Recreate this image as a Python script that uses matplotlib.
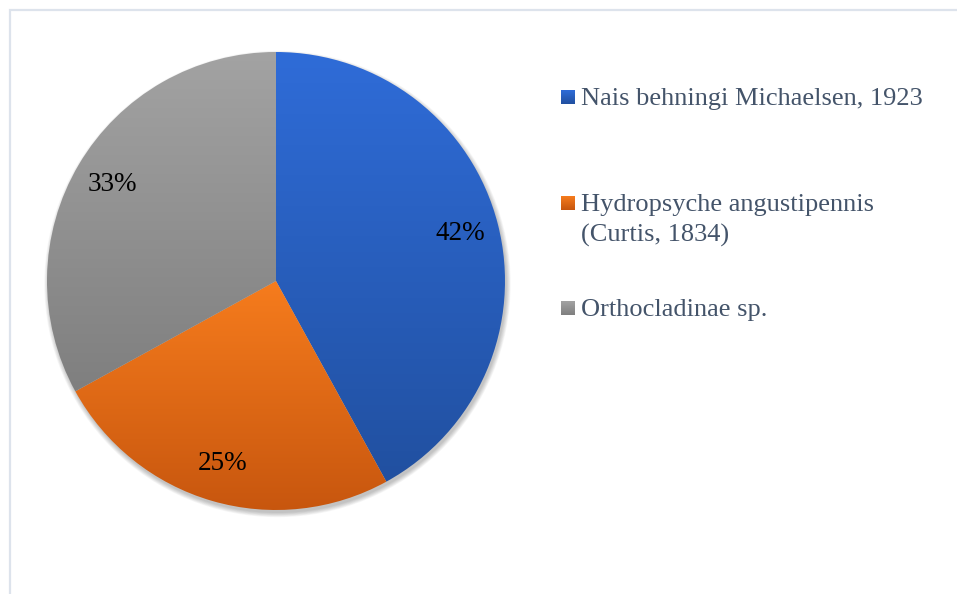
import numpy as np
import matplotlib
matplotlib.use("Agg")
import matplotlib.pyplot as plt
from matplotlib.patches import Rectangle, Circle
from matplotlib.colors import LinearSegmentedColormap

# species share of the sample
species = ["Nais behningi Michaelsen, 1923",
           "Hydropsyche angustipennis\n(Curtis, 1834)",
           "Orthocladinae sp."]
shares = [42, 25, 33]

# gradient fills (top colour, bottom colour) per slice
grad_top = ["#2f6cd8", "#f67c1d", "#a3a3a3"]
grad_bot = ["#2150a0", "#c6550e", "#7f7f7f"]

W, H = 957, 594
plt.rcParams["font.family"] = ["Liberation Serif", "DejaVu Serif"]

fig = plt.figure(figsize=(W / 100, H / 100), dpi=100)
ax = fig.add_axes([0, 0, 1, 1])

# chart area border (cut off at the right and bottom)
ax.add_patch(Rectangle((10, -20), W + 20, H - 10 + 20, fill=False,
                       edgecolor="#dde3ec", lw=1.6))

cx, cy, r = 276, 313, 229

# soft drop shadow under the pie
for i in range(7):
    ax.add_patch(Circle((cx + 1.5, cy - 3), r + i * 0.7, color="black",
                        alpha=0.035, lw=0, zorder=1))

wedges, _, autotexts = ax.pie(shares, center=(cx, cy), radius=r,
                              startangle=90, counterclock=False,
                              autopct="%d%%", pctdistance=0.83,
                              textprops=dict(fontsize=19.5, color="black"),
                              wedgeprops=dict(linewidth=0))

grad = np.linspace(0, 1, 256).reshape(-1, 1)
for w, t, b in zip(wedges, grad_top, grad_bot):
    cm = LinearSegmentedColormap.from_list("g", [t, b])
    verts = w.get_path().vertices
    x0, y0 = verts.min(axis=0)
    x1, y1 = verts.max(axis=0)
    im = ax.imshow(grad, cmap=cm, extent=(x0, x1, y0, y1), origin="upper",
                   aspect="auto", zorder=2, interpolation="bilinear")
    im.set_clip_path(w)
    w.set_facecolor("none")
for t in autotexts:
    t.set_zorder(5)

# legend drawn by hand
leg_y = [H - 97, H - 203, H - 308]
for name, t, b, y in zip(species, grad_top, grad_bot, leg_y):
    cm = LinearSegmentedColormap.from_list("g", [t, b])
    ax.imshow(grad, cmap=cm, extent=(561, 575, y - 7, y + 7),
              origin="upper", aspect="auto", zorder=3)
    ax.text(581, y + 9, name, fontsize=19, color="#44546a",
            va="top", ha="left", linespacing=1.42)

ax.set_xlim(0, W)
ax.set_ylim(0, H)
ax.set_aspect("equal")
ax.axis("off")
fig.savefig("out.png", dpi=100)
